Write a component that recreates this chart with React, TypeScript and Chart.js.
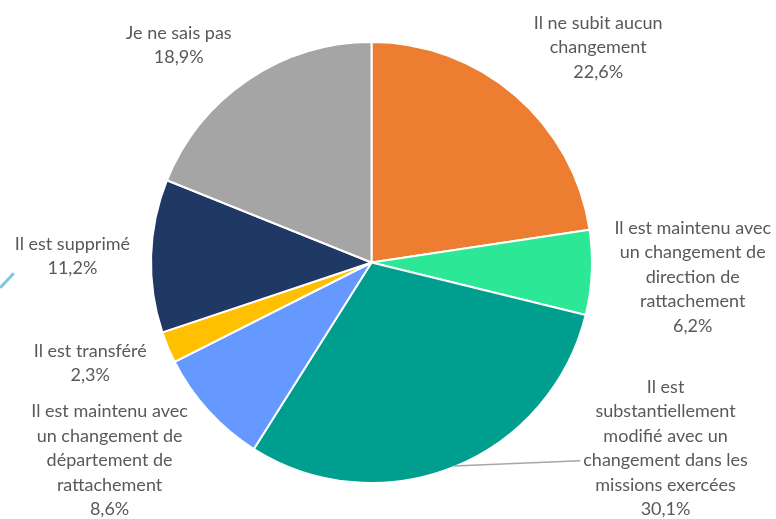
import React, { useEffect, useRef } from "react";
import { Chart, registerables } from "chart.js";

Chart.register(...registerables);

const categories: string[][] = [
  ["Il ne subit aucun", "changement"],
  ["Il est maintenu avec", "un changement de", "direction de", "rattachement"],
  ["Il est", "substantiellement", "modifié avec un", "changement dans les", "missions exercées"],
  ["Il est maintenu avec", "un changement de", "département de", "rattachement"],
  ["Il est transféré"],
  ["Il est supprimé"],
  ["Je ne sais pas"],
];
const values: number[] = [22.6, 6.2, 30.1, 8.6, 2.3, 11.2, 18.9];
const colors: string[] = ["#ED7D31", "#2CE896", "#009E8F", "#6699FF", "#FFC000", "#203864", "#A5A5A5"];

// label layout: angle (deg, clockwise from top) and distance as a multiple of the pie radius
const labelAngle: number[] = [46.5, 92.6, 122.3, 232.9, 250.3, 271.2, 318.4];
const labelDist: number[] = [1.424, 1.465, 1.585, 1.496, 1.361, 1.363, 1.323];
const leaderLine: boolean[] = [false, false, true, false, false, false, false];

const FONT = "18px Lato, 'Open Sans', sans-serif";
const LINE_H = 24.5;
const TEXT_COLOR = "#595959";

const labelPlugin = {
  id: "pieLabels",
  afterDraw(chart: any) {
    const ctx = chart.ctx;
    const meta = chart.getDatasetMeta(0);
    ctx.save();
    ctx.font = FONT;
    ctx.fillStyle = TEXT_COLOR;
    ctx.textAlign = "center";
    ctx.textBaseline = "middle";
    meta.data.forEach((arc: any, i: number) => {
      const { x, y, outerRadius, startAngle, endAngle } = arc.getProps(["x", "y", "outerRadius", "startAngle", "endAngle"], true);
      const R = outerRadius - 1;
      const a = (labelAngle[i] * Math.PI) / 180;
      const r = R * labelDist[i];
      const cx = x + Math.sin(a) * r;
      const cy = y - Math.cos(a) * r;
      const lines = [...categories[i], values[i].toFixed(1).replace(".", ",") + "%"];
      const n = lines.length;
      lines.forEach((t, k) => {
        ctx.fillText(t, cx, cy + (k - (n - 1) / 2) * LINE_H);
      });
      if (leaderLine[i]) {
        const mid = (startAngle + endAngle) / 2;
        const sx = x + Math.cos(mid) * R;
        const sy = y + Math.sin(mid) * R;
        const k = n - 3;
        const ly = cy + (k - (n - 1) / 2) * LINE_H;
        const w = ctx.measureText(lines[k]).width;
        const ex = cx - w / 2 - 3;
        ctx.strokeStyle = "#A6A6A6";
        ctx.lineWidth = 1.5;
        ctx.beginPath();
        ctx.moveTo(sx, sy);
        ctx.lineTo(ex, ly);
        ctx.stroke();
      }
    });
    ctx.restore();
  },
};

export default function App() {
  const ref = useRef<HTMLCanvasElement | null>(null);
  useEffect(() => {
    if (!ref.current) return;
    const chart = new Chart(ref.current, {
      type: "pie",
      data: {
        labels: categories.map((c) => c.join(" ")),
        datasets: [
          {
            data: values,
            backgroundColor: colors,
            borderColor: "#FFFFFF",
            borderWidth: 2,
          },
        ],
      },
      options: {
        responsive: false,
        animation: false,
        layout: { padding: { top: 41, bottom: 35, left: 150, right: 183 } },
        plugins: {
          legend: { display: false },
          tooltip: { enabled: false },
        },
      },
      plugins: [labelPlugin],
    });
    return () => chart.destroy();
  }, []);
  return (
    <div style={{ position: "absolute", left: 0, top: 0, width: 776, height: 519, background: "#fff" }}>
      <canvas ref={ref} width={776} height={519} style={{ display: "block" }} />
      <div
        style={{
          position: "absolute",
          left: -3,
          top: 279,
          width: 20,
          height: 3,
          background: "#7EC8D8",
          transform: "rotate(-47deg)",
        }}
      />
    </div>
  );
}
